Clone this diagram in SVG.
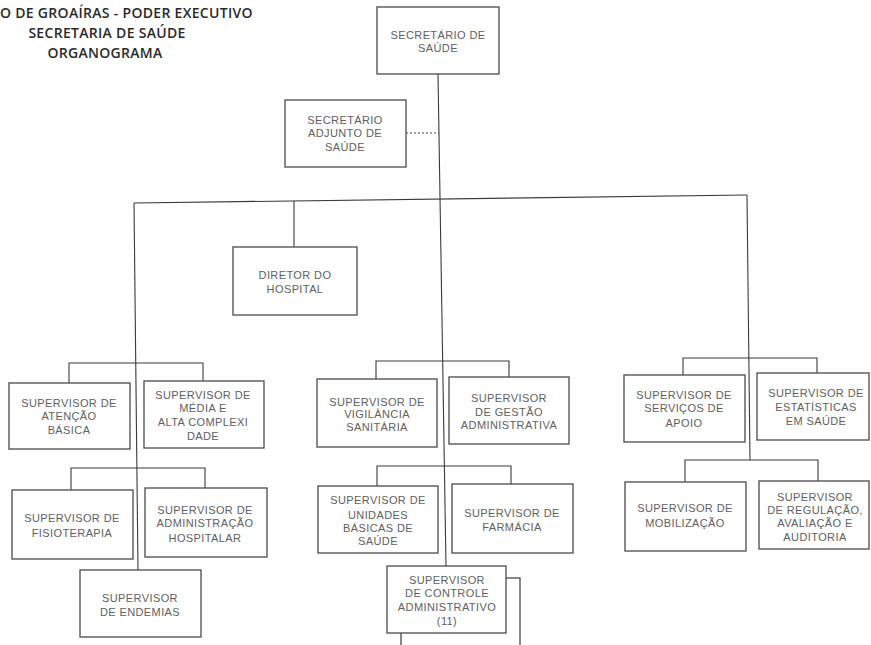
<svg xmlns="http://www.w3.org/2000/svg" width="871" height="645" viewBox="0 0 871 645">
<style>
.bg{fill:#ffffff}
.box{fill:#ffffff;stroke:#4a4a4a;stroke-width:1.3}
.ln{fill:none;stroke:#3a3a3a;stroke-width:1.1}
.dot{fill:none;stroke:#444;stroke-width:1.1;stroke-dasharray:2 2}
.t{font-family:"Liberation Sans",Arial,sans-serif;font-size:11px;fill:#606060;text-anchor:middle;letter-spacing:0.4px}
.h{font-family:"Open Sans","Liberation Sans",sans-serif;font-size:14px;font-weight:600;fill:#2a2a2a;letter-spacing:0.3px}
</style>
<rect class="bg" x="0" y="0" width="871" height="645"/>
<g id="title">
<text class="h" x="0" y="18">O DE GROAÍRAS - PODER EXECUTIVO</text>
<text class="h" x="107" y="38" text-anchor="middle">SECRETARIA DE SAÚDE</text>
<text class="h" x="105" y="58" text-anchor="middle">ORGANOGRAMA</text>
</g>
<g id="connectors">
<line class="ln" x1="438" y1="74" x2="446" y2="566"/>
<line class="dot" x1="406" y1="133" x2="439" y2="133"/>
<line class="ln" x1="134" y1="203" x2="747" y2="195"/>
<line class="ln" x1="134" y1="203" x2="138" y2="570"/>
<line class="ln" x1="747" y1="195" x2="750" y2="460"/>
<line class="ln" x1="294" y1="201" x2="294" y2="247"/>
<polyline class="ln" points="69,383 69,363 203,363 203,381"/>
<polyline class="ln" points="71,490 71,468 205,468 205,488"/>
<polyline class="ln" points="376,379 376,361 509,361 509,377"/>
<polyline class="ln" points="377,486 377,466 511,466 511,484"/>
<polyline class="ln" points="683,375 683,358 817,358 817,373"/>
<polyline class="ln" points="685,482 685,460 818,460 818,481"/>
</g>
<g id="secretario">
<rect class="box" x="377" y="7" width="122" height="67"/>
<text class="t" x="438" y="39">SECRETÁRIO DE</text>
<text class="t" x="438" y="52">SAÚDE</text>
</g>
<g id="adjunto">
<rect class="box" x="285" y="100" width="121" height="67"/>
<text class="t" x="345" y="124">SECRETÁRIO</text>
<text class="t" x="345" y="137">ADJUNTO DE</text>
<text class="t" x="345" y="151">SAÚDE</text>
</g>
<g id="diretor">
<rect class="box" x="233" y="247" width="124" height="68"/>
<text class="t" x="295" y="279">DIRETOR DO</text>
<text class="t" x="295" y="293">HOSPITAL</text>
</g>
<g id="atencao">
<rect class="box" x="9" y="383" width="121" height="66"/>
<text class="t" x="69" y="407">SUPERVISOR DE</text>
<text class="t" x="69" y="420">ATENÇÃO</text>
<text class="t" x="69" y="434">BÁSICA</text>
</g>
<g id="media">
<rect class="box" x="144" y="381" width="120" height="67"/>
<text class="t" x="203" y="399">SUPERVISOR DE</text>
<text class="t" x="203" y="412">MÉDIA E</text>
<text class="t" x="203" y="426">ALTA COMPLEXI</text>
<text class="t" x="203" y="440">DADE</text>
</g>
<g id="fisioterapia">
<rect class="box" x="12" y="490" width="121" height="69"/>
<text class="t" x="72" y="522">SUPERVISOR DE</text>
<text class="t" x="72" y="537">FISIOTERAPIA</text>
</g>
<g id="admhospitalar">
<rect class="box" x="145" y="488" width="122" height="69"/>
<text class="t" x="205" y="514">SUPERVISOR DE</text>
<text class="t" x="205" y="527">ADMINISTRAÇÃO</text>
<text class="t" x="205" y="542">HOSPITALAR</text>
</g>
<g id="endemias">
<rect class="box" x="80" y="570" width="121" height="67"/>
<text class="t" x="140" y="602">SUPERVISOR</text>
<text class="t" x="140" y="616">DE ENDEMIAS</text>
</g>
<g id="vigilancia">
<rect class="box" x="317" y="379" width="120" height="68"/>
<text class="t" x="377" y="406">SUPERVISOR DE</text>
<text class="t" x="377" y="418">VIGILÂNCIA</text>
<text class="t" x="377" y="431">SANITÁRIA</text>
</g>
<g id="gestao">
<rect class="box" x="449" y="377" width="120" height="67"/>
<text class="t" x="509" y="402">SUPERVISOR</text>
<text class="t" x="509" y="416">DE GESTÃO</text>
<text class="t" x="509" y="429">ADMINISTRATIVA</text>
</g>
<g id="unidades">
<rect class="box" x="318" y="486" width="120" height="67"/>
<text class="t" x="378" y="504">SUPERVISOR DE</text>
<text class="t" x="378" y="519">UNIDADES</text>
<text class="t" x="378" y="532">BÁSICAS DE</text>
<text class="t" x="378" y="545">SAÚDE</text>
</g>
<g id="farmacia">
<rect class="box" x="452" y="484" width="121" height="69"/>
<text class="t" x="512" y="517">SUPERVISOR DE</text>
<text class="t" x="512" y="531">FARMÁCIA</text>
</g>
<g id="controle">
<rect class="box" x="401" y="578" width="119" height="70"/>
<rect class="box" x="387" y="566" width="119" height="67"/>
<text class="t" x="447" y="584">SUPERVISOR</text>
<text class="t" x="447" y="597">DE CONTROLE</text>
<text class="t" x="447" y="611">ADMINISTRATIVO</text>
<text class="t" x="447" y="625">(11)</text>
</g>
<g id="servicos">
<rect class="box" x="624" y="375" width="121" height="67"/>
<text class="t" x="684" y="399">SUPERVISOR DE</text>
<text class="t" x="684" y="412">SERVIÇOS DE</text>
<text class="t" x="684" y="427">APOIO</text>
</g>
<g id="estatisticas">
<rect class="box" x="757" y="373" width="112" height="67"/>
<text class="t" x="816" y="397">SUPERVISOR DE</text>
<text class="t" x="816" y="411">ESTATÍSTICAS</text>
<text class="t" x="816" y="425">EM SAÚDE</text>
</g>
<g id="mobilizacao">
<rect class="box" x="625" y="482" width="121" height="69"/>
<text class="t" x="685" y="512">SUPERVISOR DE</text>
<text class="t" x="685" y="527">MOBILIZAÇÃO</text>
</g>
<g id="regulacao">
<rect class="box" x="759" y="481" width="110" height="68"/>
<text class="t" x="815" y="501">SUPERVISOR</text>
<text class="t" x="815" y="514">DE REGULAÇÃO,</text>
<text class="t" x="815" y="527">AVALIAÇÃO E</text>
<text class="t" x="815" y="541">AUDITORIA</text>
</g>
</svg>
